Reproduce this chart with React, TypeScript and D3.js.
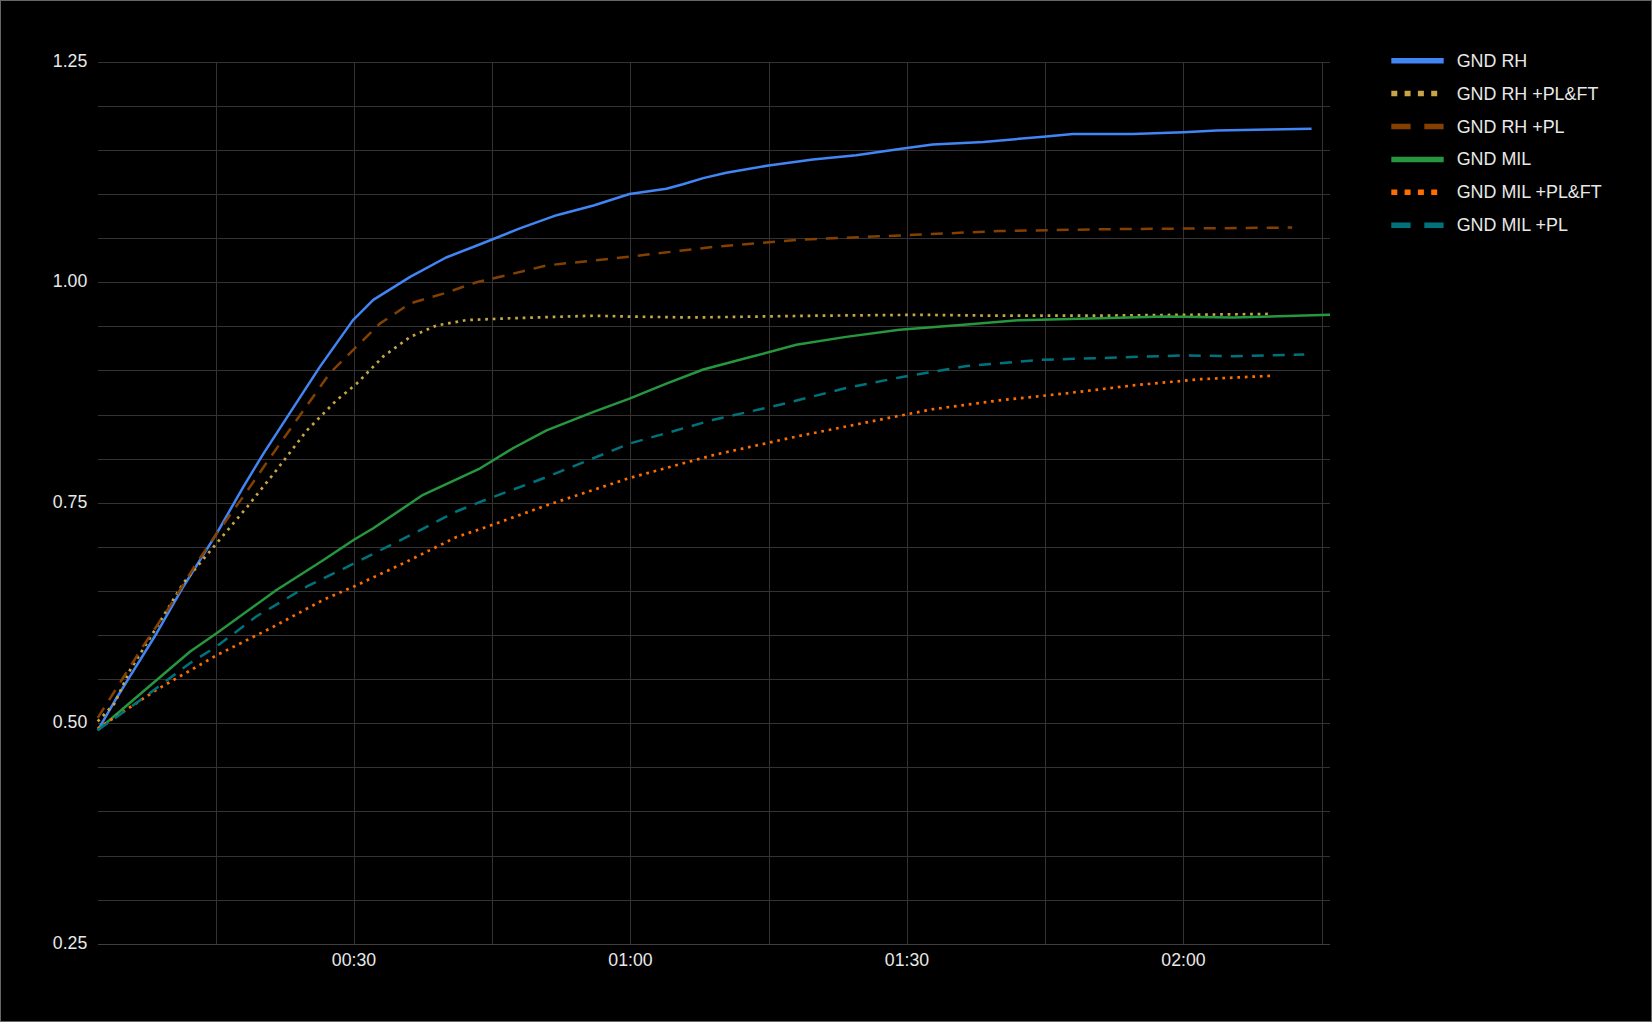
import React from "react";
import * as d3 from "d3";

// ---- data (time in seconds, value) ----
const gndRhT = [2.2, 4.1, 5.7, 8.6, 11.5, 15.1, 18, 20.2, 23, 26.3, 29.9, 32.1, 36.1, 40, 43.7, 48, 52, 56, 59.9, 63.9, 65.7, 67.9, 70.4, 74.8, 79.8, 84.5, 89.2, 92.8, 98.3, 104.8, 108, 114.5, 120, 123.6, 129.3, 133.9];
const gndRhV = [0.492, 0.526, 0.553, 0.602, 0.655, 0.715, 0.768, 0.806, 0.851, 0.904, 0.957, 0.98, 1.006, 1.028, 1.043, 1.061, 1.076, 1.087, 1.1, 1.106, 1.111, 1.118, 1.124, 1.132, 1.139, 1.144, 1.151, 1.156, 1.159, 1.165, 1.168, 1.168, 1.17, 1.172, 1.173, 1.174];

const gndRhPlFtT = [2.2, 4, 5.7, 8.6, 11.5, 15.1, 18.4, 21.6, 24.9, 28.1, 30.3, 33.2, 36.1, 39, 42.2, 46.6, 56, 60, 66.8, 80, 91.4, 100, 110, 120, 129.3];
const gndRhPlFtV = [0.502, 0.522, 0.56, 0.609, 0.659, 0.704, 0.745, 0.787, 0.832, 0.866, 0.885, 0.916, 0.938, 0.951, 0.957, 0.959, 0.962, 0.961, 0.96, 0.962, 0.963, 0.962, 0.962, 0.963, 0.964];

const gndRhPlT = [2.2, 3.9, 7.1, 10, 12.9, 15.1, 18, 20.5, 23.8, 27.4, 29.9, 32.8, 36.1, 39.7, 43.3, 46.6, 50.9, 59.9, 69, 78, 87, 91.4, 100, 110.9, 121.8, 131.8];
const gndRhPlV = [0.506, 0.534, 0.587, 0.632, 0.681, 0.715, 0.757, 0.795, 0.844, 0.897, 0.923, 0.953, 0.976, 0.987, 1.0, 1.008, 1.019, 1.029, 1.04, 1.048, 1.052, 1.054, 1.058, 1.06, 1.061, 1.062];

const gndMilT = [2.2, 8.6, 12.2, 15.1, 21.6, 26.7, 30, 32.1, 37.5, 43.7, 47.3, 50.9, 56, 59.9, 63.9, 67.9, 72.6, 78, 83.4, 89.2, 96.5, 102.2, 110.9, 118.1, 125.4, 135.9];
const gndMilV = [0.492, 0.549, 0.581, 0.602, 0.651, 0.685, 0.708, 0.721, 0.759, 0.789, 0.812, 0.832, 0.853, 0.868, 0.885, 0.901, 0.914, 0.929, 0.938, 0.946, 0.952, 0.957, 0.959, 0.961, 0.96, 0.963];

const gndMilPlFtT = [2.2, 8.6, 15.1, 21.2, 26.7, 30, 35.7, 41.1, 43.7, 50.9, 59.9, 69, 78, 87, 92.8, 100, 107.3, 114.5, 121.8, 129.8];
const gndMilPlFtV = [0.494, 0.538, 0.577, 0.609, 0.64, 0.655, 0.683, 0.711, 0.72, 0.747, 0.778, 0.804, 0.825, 0.844, 0.856, 0.866, 0.874, 0.883, 0.89, 0.894];

const gndMilPlT = [2.2, 6.8, 12.2, 15.1, 19.4, 24.9, 30, 35.7, 41.1, 43.7, 50.9, 59.9, 69, 76.2, 83.4, 89.2, 96.5, 104.4, 110.9, 120, 125.4, 133.1];
const gndMilPlV = [0.492, 0.526, 0.568, 0.587, 0.621, 0.655, 0.681, 0.711, 0.74, 0.751, 0.779, 0.817, 0.844, 0.861, 0.88, 0.892, 0.905, 0.912, 0.914, 0.917, 0.916, 0.918];

const seriesNames = ["GND RH", "GND RH +PL&FT", "GND RH +PL", "GND MIL", "GND MIL +PL&FT", "GND MIL +PL"];
const seriesColors = ["#4285F4", "#C6A647", "#834000", "#26973E", "#FF6D01", "#00727C"];
const seriesStyles = ["solid", "dotted", "dashed", "solid", "dotted", "dashed"];
const seriesTimes = [gndRhT, gndRhPlFtT, gndRhPlT, gndMilT, gndMilPlFtT, gndMilPlT];
const seriesValues = [gndRhV, gndRhPlFtV, gndRhPlV, gndMilV, gndMilPlFtV, gndMilPlV];

const yTicks = [0.25, 0.5, 0.75, 1.0, 1.25];
const xTickLabels = ["00:30", "01:00", "01:30", "02:00"];
const xTickSeconds = [30, 60, 90, 120];

const W = 1652;
const H = 1022;
const FONT = "'Liberation Sans', Arial, sans-serif";
const TEXT = "#e8e8e8";

export default function App() {
  const x = d3.scaleLinear().domain([2.2, 135.9]).range([97.7, 1330]);
  const y = d3.scaleLinear().domain([0.25, 1.25]).range([943.7, 61.7]);

  const minorY = d3.range(0.25, 1.2501, 0.05).map((v) => +v.toFixed(2));
  const gridX = d3.range(15, 136, 15);
  const snap = (p: number) => Math.round(p) + 0.5;

  const line = d3
    .line<[number, number]>()
    .x((d) => x(d[0]))
    .y((d) => y(d[1]));

  const chartDash = (s: string) => (s === "dotted" ? "2.7 4.8" : s === "dashed" ? "12 9" : undefined);
  const legendDash = (s: string) => (s === "dotted" ? "6 7.3" : s === "dashed" ? "19.3 13.7" : undefined);

  return (
    <>
      <style>{`html,body{margin:0;padding:0;background:#000;}`}</style>
      <svg width={W} height={H} style={{ display: "block", background: "#000" }}>
        <rect x={0.5} y={0.5} width={W - 1} height={H - 1} fill="#000" stroke="#666" strokeWidth={1} />
        {/* grid */}
        <g>
          {minorY.map((v) => (
            <line key={"gy" + v} x1={Math.round(x.range()[0])} x2={Math.round(x.range()[1])} y1={snap(y(v))} y2={snap(y(v))} stroke={v === 0.25 ? "#3f3f3f" : "#333333"} strokeWidth={1} />
          ))}
          {gridX.map((t) => (
            <line key={"gx" + t} x1={snap(x(t))} x2={snap(x(t))} y1={Math.round(y(1.25))} y2={Math.round(y(0.25))} stroke="#333333" strokeWidth={1} />
          ))}
        </g>
        {/* y labels */}
        {yTicks.map((v) => (
          <text key={"yl" + v} x={87.3} y={y(v) + 5} textAnchor="end" fontFamily={FONT} fontSize={17.7} fill={TEXT}>
            {v.toFixed(2)}
          </text>
        ))}
        {/* x labels */}
        {xTickLabels.map((lab, i) => (
          <text key={"xl" + lab} x={x(xTickSeconds[i])} y={966} textAnchor="middle" fontFamily={FONT} fontSize={17.7} fill={TEXT}>
            {lab}
          </text>
        ))}
        {/* series */}
        {seriesNames.map((name, i) => {
          const pts = seriesTimes[i].map((t, j) => [t, seriesValues[i][j]] as [number, number]);
          return (
            <path
              key={"s" + name}
              d={line(pts) || ""}
              fill="none"
              stroke={seriesColors[i]}
              strokeWidth={seriesStyles[i] === "dotted" ? 2.7 : 2.5}
              strokeDasharray={chartDash(seriesStyles[i])}
              strokeLinejoin="round"
            />
          );
        })}
        {/* legend */}
        {seriesNames.map((name, i) => {
          const ly = 60.7 + 32.9 * i;
          return (
            <g key={"lg" + name}>
              <line x1={1391.3} x2={1443.7} y1={ly} y2={ly} stroke={seriesColors[i]} strokeWidth={5.5} strokeDasharray={legendDash(seriesStyles[i])} />
              <text x={1456.7} y={ly + 6} fontFamily={FONT} fontSize={17.9} fill={TEXT}>
                {name}
              </text>
            </g>
          );
        })}
      </svg>
    </>
  );
}
